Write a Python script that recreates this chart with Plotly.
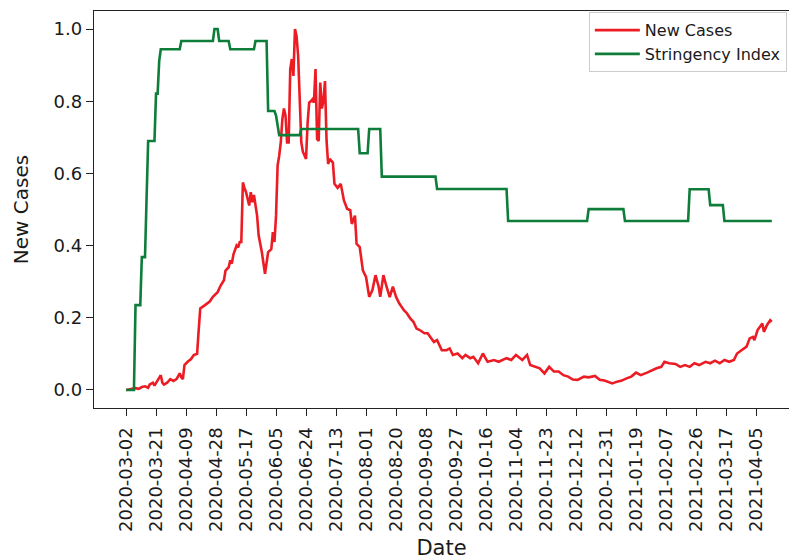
import numpy as np
import pandas as pd
import plotly.graph_objects as go

START_DATE = "2020-03-02"
N_DAYS = 410

# New cases (normalised) sampled as (day offset from start, value)
case_day = [0, 3, 6, 8, 10, 12, 14, 15, 17, 18, 20, 21, 22, 23, 24, 26, 28, 30, 32, 34, 35, 36, 37, 39, 41, 43, 45, 46, 47, 50,
            53, 55, 57, 58, 60, 62, 63, 65, 66, 67, 68, 69, 70, 71, 72, 73, 74, 75, 76, 78, 79, 80, 81, 83, 84, 86, 88, 90, 92, 93,
            94, 95, 96, 97, 98, 99, 100, 101, 102, 103, 104, 105, 106, 107, 108, 109, 110, 111, 112, 113, 114, 115, 116, 117, 118, 119, 120, 121, 122, 123,
            124, 125, 126, 127, 128, 129, 131, 132, 134, 136, 138, 140, 142, 143, 145, 146, 148, 150, 152, 154, 156, 158, 160, 161, 163, 165, 167, 169, 171, 173,
            176, 178, 180, 182, 184, 186, 189, 191, 193, 195, 197, 200, 203, 205, 207, 210, 213, 215, 218, 220, 223, 226, 229, 233, 236, 239, 241, 244, 247, 251,
            254, 256, 259, 262, 265, 268, 271, 274, 277, 280, 283, 286, 290, 293, 297, 300, 303, 308, 311, 314, 317, 320, 323, 326, 330, 333, 336, 339, 341, 344,
            348, 351, 354, 357, 360, 363, 367, 370, 373, 376, 379, 382, 385, 387, 390, 393, 395, 397, 398, 400, 403, 404, 406, 408, 409]
case_value = [0.0, 0.002, 0.005, 0.003, 0.008, 0.01, 0.006, 0.015, 0.02, 0.012, 0.025, 0.032, 0.041, 0.02, 0.015, 0.02, 0.03, 0.025, 0.03, 0.046, 0.035, 0.03, 0.069, 0.078, 0.085, 0.097, 0.1, 0.166, 0.226, 0.235,
              0.245, 0.258, 0.265, 0.271, 0.29, 0.304, 0.331, 0.34, 0.359, 0.35, 0.375, 0.387, 0.4, 0.395, 0.41, 0.41, 0.575, 0.56, 0.548, 0.511, 0.548, 0.52, 0.54, 0.483, 0.428, 0.382, 0.322, 0.382, 0.39, 0.437,
              0.41, 0.483, 0.622, 0.649, 0.686, 0.75, 0.78, 0.76, 0.686, 0.686, 0.889, 0.917, 0.87, 1.0, 0.98, 0.926, 0.824, 0.686, 0.66, 0.649, 0.64, 0.741, 0.796, 0.80, 0.805, 0.796, 0.889, 0.695, 0.69, 0.852,
              0.78, 0.80, 0.856, 0.69, 0.626, 0.64, 0.63, 0.571, 0.56, 0.571, 0.525, 0.502, 0.498, 0.46, 0.483, 0.405, 0.396, 0.331, 0.313, 0.258, 0.276, 0.318, 0.286, 0.258, 0.318, 0.286, 0.257, 0.286, 0.258, 0.24,
              0.221, 0.212, 0.198, 0.189, 0.17, 0.166, 0.157, 0.157, 0.145, 0.133, 0.138, 0.11, 0.11, 0.115, 0.097, 0.101, 0.088, 0.097, 0.088, 0.092, 0.074, 0.101, 0.078, 0.083, 0.078, 0.083, 0.088, 0.083, 0.097, 0.083,
              0.097, 0.069, 0.064, 0.06, 0.046, 0.064, 0.051, 0.051, 0.041, 0.037, 0.029, 0.028, 0.037, 0.035, 0.039, 0.028, 0.026, 0.018, 0.023, 0.026, 0.032, 0.037, 0.048, 0.041, 0.048, 0.055, 0.06, 0.064, 0.078, 0.074,
              0.072, 0.064, 0.069, 0.064, 0.074, 0.069, 0.078, 0.074, 0.081, 0.074, 0.083, 0.078, 0.083, 0.101, 0.11, 0.12, 0.143, 0.147, 0.138, 0.166, 0.184, 0.161, 0.18, 0.193, 0.189]

# Stringency index (normalised): day on which each level starts, and the level
stringency_start_day = [0, 6, 10, 13, 14, 19, 21, 22, 35, 56, 59, 66, 82, 90, 95, 96, 97, 111, 148, 154, 162, 197, 242, 293, 316, 357, 370, 379]
stringency_value = [0.0, 0.235, 0.368, 0.53, 0.69, 0.821, 0.912, 0.944, 0.967, 1.0, 0.967, 0.944, 0.967, 0.773, 0.76, 0.737, 0.706,
                    0.723, 0.656, 0.723, 0.591, 0.557, 0.468, 0.501, 0.468, 0.556, 0.512, 0.468]

tick_labels = ["2020-03-02", "2020-03-21", "2020-04-09", "2020-04-28", "2020-05-17", "2020-06-05", "2020-06-24",
               "2020-07-13", "2020-08-01", "2020-08-20", "2020-09-08", "2020-09-27", "2020-10-16", "2020-11-04",
               "2020-11-23", "2020-12-12", "2020-12-31", "2021-01-19", "2021-02-07", "2021-02-26", "2021-03-17",
               "2021-04-05"]

start = pd.Timestamp(START_DATE)
case_dates = [start + pd.Timedelta(days=d) for d in case_day]

# expand step levels to daily series
run_ends = stringency_start_day[1:] + [N_DAYS]
run_len = [e - s for s, e in zip(stringency_start_day, run_ends)]
str_daily = np.repeat(stringency_value, run_len)
str_dates = pd.date_range(start, periods=N_DAYS, freq="D")

FONT = "DejaVu Sans"
fig = go.Figure()
fig.add_trace(go.Scatter(x=case_dates, y=case_value, mode="lines", name="New Cases",
                         line=dict(color="#ec1c24", width=2.6)))
fig.add_trace(go.Scatter(x=str_dates, y=str_daily, mode="lines", name="Stringency Index",
                         line=dict(color="#0f7d3a", width=2.6)))

x0 = start + pd.Timedelta(days=-20.3)
x1 = start + pd.Timedelta(days=419.9)

fig.update_layout(
    width=790, height=560,
    margin=dict(l=94, r=1, t=11, b=152, autoexpand=False),
    plot_bgcolor="white", paper_bgcolor="white",
    font=dict(family=FONT, color="#1a1a1a", size=16),
    showlegend=True,
    legend=dict(x=0.712, xanchor="left", y=0.997, yanchor="top",
                bgcolor="white", bordercolor="#cccccc", borderwidth=1,
                itemwidth=45,
                font=dict(size=16, family=FONT), tracegroupgap=0),
    xaxis=dict(type="date", range=[x0, x1], tickmode="array", automargin=False,
               tickvals=tick_labels, ticktext=tick_labels, tickangle=-90,
               showgrid=False, zeroline=False, showline=True, mirror=True,
               linecolor="#222", linewidth=1.3, ticks="outside", ticklen=7,
               tickwidth=1.3, tickcolor="#222", tickfont=dict(size=18, family=FONT),
               ticklabelstandoff=4,
               title=dict(text="Date", font=dict(size=21, family=FONT), standoff=12)),
    yaxis=dict(range=[-0.05, 1.05], tickmode="array", automargin=False,
               tickvals=[0, 0.2, 0.4, 0.6, 0.8, 1.0], tickformat=".1f",
               showgrid=False, zeroline=False, showline=True, mirror=False,
               linecolor="#222", linewidth=1.3, ticks="outside", ticklen=7,
               tickwidth=1.3, tickcolor="#222", tickfont=dict(size=18, family=FONT),
               title=dict(text="New Cases", font=dict(size=20, family=FONT), standoff=19)),
)

fig.write_html("out.html", config={"displayModeBar": False},
               post_script="document.body.style.margin='0';")
